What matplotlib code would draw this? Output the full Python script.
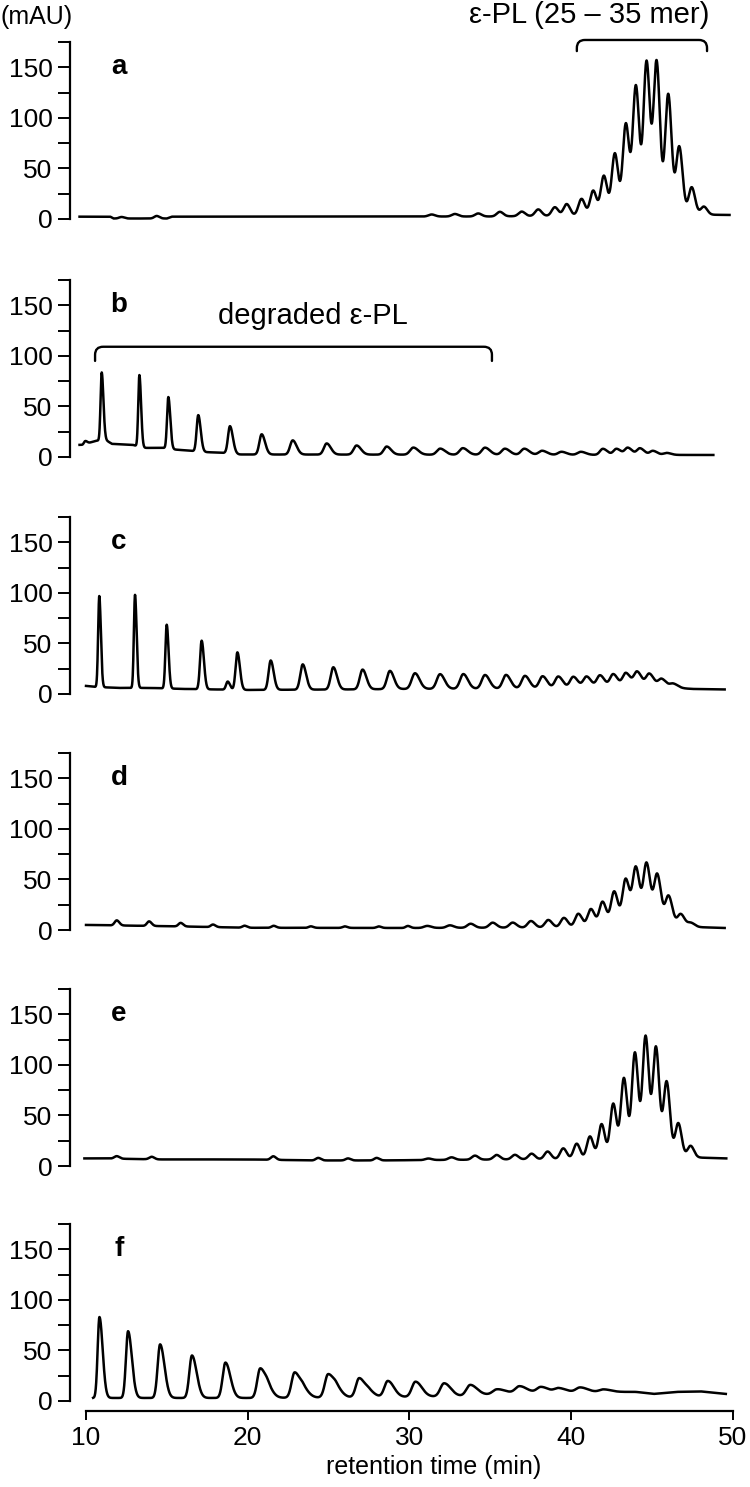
import numpy as np
import matplotlib
matplotlib.use("Agg")
import matplotlib.pyplot as plt
from matplotlib.path import Path
from matplotlib.patches import PathPatch

plt.rcParams['font.family'] = ['Liberation Sans', 'DejaVu Sans']

# --- data (retention time in min, signal in mAU) ---
# baselines: knot times / values ; peaks: apex time, height above baseline, width (sigma)
a_base_t = [9.6, 11.5, 11.7, 15.0, 15.3, 35.0, 47.0, 49.8]
a_base_y = [2.3, 2.3, 0.5, 0.5, 2.3, 2.5, 4.5, 4.0]
a_peak_t = [12.20, 14.37, 31.37, 32.81, 34.25, 35.59, 36.94, 37.96, 38.99, 39.72, 40.64,
            41.36, 42.02, 42.70, 43.38, 44.00, 44.66, 45.28, 46.00, 46.68, 47.45, 48.20]
a_peak_h = [1.5, 2.5, 2, 2.5, 3, 4.5, 4.5, 6.5, 8.5, 11.5, 16.5,
            24.5, 39, 61, 90, 127, 151, 151, 119, 67, 27, 8]
a_peak_w = [0.15, 0.15, 0.19, 0.19, 0.19, 0.19, 0.19, 0.19, 0.19, 0.19, 0.19,
            0.19, 0.19, 0.19, 0.19, 0.19, 0.19, 0.19, 0.19, 0.19, 0.19, 0.19]

b_base_t = [9.6, 9.8, 10.6, 11.2, 11.6, 12.9, 13.5, 14.8, 15.4, 16.6, 17.2, 18.6, 19.5, 48.8]
b_base_y = [12, 12, 16, 17, 13, 12, 9, 9, 7.5, 6, 5, 4, 2.5, 2]
b_peak_t = [9.95, 10.97, 13.30, 15.09, 16.94, 18.90, 20.86, 22.78, 24.88, 26.73, 28.59, 30.24, 31.90,
            33.30, 34.67, 35.90, 37.10, 38.20, 39.40, 40.60, 41.96, 42.80, 43.50, 44.25, 45.05, 45.90]
b_peak_h = [3, 67, 71, 51, 36, 27, 20, 14, 11, 9, 8, 7, 6,
            6.5, 7, 6, 6, 4, 3, 3, 6, 6, 7, 6.5, 4, 2]
b_peak_w = [0.08, 0.07, 0.07, 0.08, 0.10, 0.12, 0.14, 0.16, 0.17, 0.18, 0.18, 0.20, 0.20,
            0.20, 0.20, 0.20, 0.20, 0.20, 0.20, 0.20, 0.18, 0.18, 0.18, 0.18, 0.18, 0.18]

c_base_t = [10.0, 10.6, 12.0, 14.0, 16.0, 20.0, 26.0, 30.0, 38.0, 42.0, 45.5, 47.5, 49.5]
c_base_y = [8, 7, 6, 6, 5, 4, 4.5, 5, 5.5, 6.5, 7, 5, 4.5]
c_peak_t = [10.82, 13.03, 14.99, 17.15, 18.76, 19.36, 21.42, 23.40, 25.29, 27.10, 28.79, 30.34, 31.89, 33.33,
            34.67, 35.97, 37.14, 38.23, 39.20, 40.13, 40.95, 41.78, 42.60, 43.38, 44.08, 44.83, 45.59, 46.31]
c_peak_h = [90, 92, 63, 48, 8, 37, 29, 25, 22, 19.5, 18, 15.5, 14.5, 14.5,
            13.5, 13.5, 12.5, 12, 11.5, 11, 11, 12, 13, 14, 15, 13, 8, 4]
c_peak_w = [0.07, 0.07, 0.08, 0.10, 0.10, 0.11, 0.13, 0.15, 0.16, 0.17, 0.18, 0.20, 0.20, 0.20,
            0.20, 0.20, 0.20, 0.20, 0.20, 0.20, 0.20, 0.20, 0.20, 0.20, 0.20, 0.20, 0.20, 0.20]

d_base_t = [10.0, 12.0, 16.0, 20.0, 30.0, 40.0, 46.0, 47.5, 49.5]
d_base_y = [5, 4.5, 3.5, 2.2, 2.0, 2.5, 3.5, 3.0, 2.0]
d_peak_t = [11.90, 13.90, 15.85, 17.85, 19.80, 21.60, 23.90, 26.00, 28.10, 29.90, 31.10, 32.50, 33.78, 35.14, 36.38,
            37.51, 38.58, 39.55, 40.44, 41.22, 41.94, 42.66, 43.37, 44.00, 44.66, 45.32, 46.02, 46.77, 47.40]
d_peak_h = [5, 4.5, 3.5, 2.5, 2, 2, 1.5, 1.5, 1.5, 2, 2, 2.5, 4, 5, 5,
            6.5, 7.5, 9.5, 13.5, 18, 25, 35, 47, 58, 62, 51, 30, 12.5, 4]
d_peak_w = [0.13, 0.13, 0.13, 0.13, 0.13, 0.13, 0.13, 0.13, 0.13, 0.13, 0.20, 0.20, 0.20, 0.20, 0.20,
            0.20, 0.20, 0.20, 0.20, 0.20, 0.20, 0.20, 0.20, 0.20, 0.20, 0.20, 0.20, 0.20, 0.20]

e_base_t = [9.9, 11.0, 14.5, 20.0, 24.0, 28.0, 32.0, 40.0, 47.5, 49.6]
e_base_y = [7.5, 7.5, 6.5, 6.5, 5.5, 5.5, 6.0, 7.0, 8.5, 7.5]
e_peak_t = [11.90, 14.06, 21.58, 24.36, 26.20, 27.97, 31.17, 32.60, 34.05, 35.39, 36.52, 37.55, 38.54,
            39.51, 40.34, 41.16, 41.88, 42.60, 43.26, 43.94, 44.60, 45.24, 45.90, 46.62, 47.38]
e_peak_h = [2.5, 2.5, 3.5, 2.5, 2, 2.5, 1.5, 2.5, 4, 4.5, 4.5, 5.5, 7.5,
            10.5, 15, 22, 34, 54, 79, 104, 120, 109, 75, 34, 11.5]
e_peak_w = [0.15, 0.15, 0.15, 0.15, 0.15, 0.15, 0.19, 0.19, 0.19, 0.19, 0.19, 0.19, 0.19,
            0.19, 0.19, 0.19, 0.19, 0.19, 0.19, 0.19, 0.19, 0.19, 0.19, 0.19, 0.19]

f_base_t = [10.44, 12.0, 20.0, 26.0, 30.0, 34.0, 36.0, 41.0, 44.0, 45.1, 46.5, 48.0, 49.56]
f_base_y = [3, 3, 3, 3.5, 4, 5, 8, 9, 9, 7, 9, 9.5, 7]
f_peak_t = [10.83, 12.60, 14.58, 16.55, 18.62, 20.77, 21.25, 22.90, 23.45, 24.97, 25.50, 26.89,
            27.50, 28.66, 30.37, 32.14, 33.76, 35.40, 36.80, 38.13, 39.22, 40.55, 42.00]
f_peak_h = [80, 66, 53, 42, 35, 29, 8, 25, 7, 23, 7, 19,
            5, 16, 15, 13, 11, 4.5, 6.5, 5.5, 4, 4.5, 2.5]
f_peak_w = [0.11, 0.13, 0.15, 0.16, 0.17, 0.18, 0.18, 0.19, 0.19, 0.20, 0.20, 0.20,
            0.20, 0.21, 0.22, 0.23, 0.24, 0.25, 0.25, 0.25, 0.25, 0.25, 0.25]

panel_labels = ['a', 'b', 'c', 'd', 'e', 'f']
y_ticks = [0, 50, 100, 150]
x_ticks = [10, 20, 30, 40, 50]

panels = [
    (a_base_t, a_base_y, a_peak_t, a_peak_h, a_peak_w, 1.1),
    (b_base_t, b_base_y, b_peak_t, b_peak_h, b_peak_w, 1.5),
    (c_base_t, c_base_y, c_peak_t, c_peak_h, c_peak_w, 1.4),
    (d_base_t, d_base_y, d_peak_t, d_peak_h, d_peak_w, 1.2),
    (e_base_t, e_base_y, e_peak_t, e_peak_h, e_peak_w, 1.1),
    (f_base_t, f_base_y, f_peak_t, f_peak_h, f_peak_w, 1.8),
]


def trace(base_t, base_y, peak_t, peak_h, peak_w, tail):
    t = np.arange(base_t[0], base_t[-1], 0.01)
    y = np.interp(t, base_t, base_y)
    for c, h, w in zip(peak_t, peak_h, peak_w):
        s = np.where(t < c, w, w * tail)
        y = y + h * np.exp(-0.5 * ((t - c) / s) ** 2)
    return t, y


def bracket(ax, x0, x1, y_line, y_end, rx=0.5, ry=8):
    verts = [(x0, y_end), (x0, y_line - ry), (x0, y_line), (x0 + rx, y_line),
             (x1 - rx, y_line), (x1, y_line), (x1, y_line - ry), (x1, y_end)]
    codes = [Path.MOVETO, Path.LINETO, Path.CURVE3, Path.CURVE3,
             Path.LINETO, Path.CURVE3, Path.CURVE3, Path.LINETO]
    ax.add_patch(PathPatch(Path(verts, codes), fill=False, lw=1.7,
                           color='black', clip_on=False, capstyle='round'))


W, H = 750, 1487
fig = plt.figure(figsize=(W / 100, H / 100), dpi=100)

zero_px = [219, 457, 694, 930, 1166, 1401]  # pixel row of the 0 line of each panel
left_px, right_px = 70, 741
ax_h_px = 177

axes = []
for i, (lab, spec) in enumerate(zip(panel_labels, panels)):
    ax = fig.add_axes([left_px / W, (H - zero_px[i]) / H,
                       (right_px - left_px) / W, ax_h_px / H])
    t, y = trace(*spec)
    ax.plot(t, y, color='black', lw=1.8, clip_on=False, solid_joinstyle='round')
    ax.set_xlim(9.01, 50.5)
    ax.set_ylim(0, 175)
    for side in ['top', 'right', 'bottom']:
        ax.spines[side].set_visible(False)
    ax.spines['left'].set_linewidth(1.6)
    ax.spines['left'].set_bounds(0, 175)
    ax.set_yticks(y_ticks)
    ax.set_yticks([25, 75, 125, 175], minor=True)
    ax.tick_params(axis='y', which='both', length=8.6, width=1.4, direction='out')
    ax.tick_params(axis='y', which='major', labelsize=19, pad=4)
    ax.text(12.04, 150, lab, fontsize=20, fontweight='bold', ha='center', va='center')
    if i < 5:
        ax.set_xticks([])
    else:
        ax.spines['bottom'].set_visible(True)
        ax.spines['bottom'].set_linewidth(1.6)
        ax.spines['bottom'].set_position(('outward', 7.2))
        ax.spines['bottom'].set_bounds(10, 50)
        ax.set_xticks(x_ticks)
        ax.tick_params(axis='x', length=6.5, width=1.4, labelsize=19, pad=4)
    axes.append(ax)

# annotations
bracket(axes[0], 40.35, 48.4, 177, 166)
axes[0].text(41.13, 202, 'ε-PL (25 – 35 mer)', fontsize=21, ha='center', va='center',
             clip_on=False)
bracket(axes[1], 10.56, 35.1, 109, 95)
axes[1].text(24.0, 139, 'degraded ε-PL', fontsize=21, ha='center', va='center')

fig.text(0.0, 1 - 17 / H, '(mAU)', fontsize=18, ha='left', va='center')
fig.text(434 / W, 1 - 1467 / H, 'retention time (min)', fontsize=18, ha='center', va='center')

fig.savefig('out.png', dpi=100)
